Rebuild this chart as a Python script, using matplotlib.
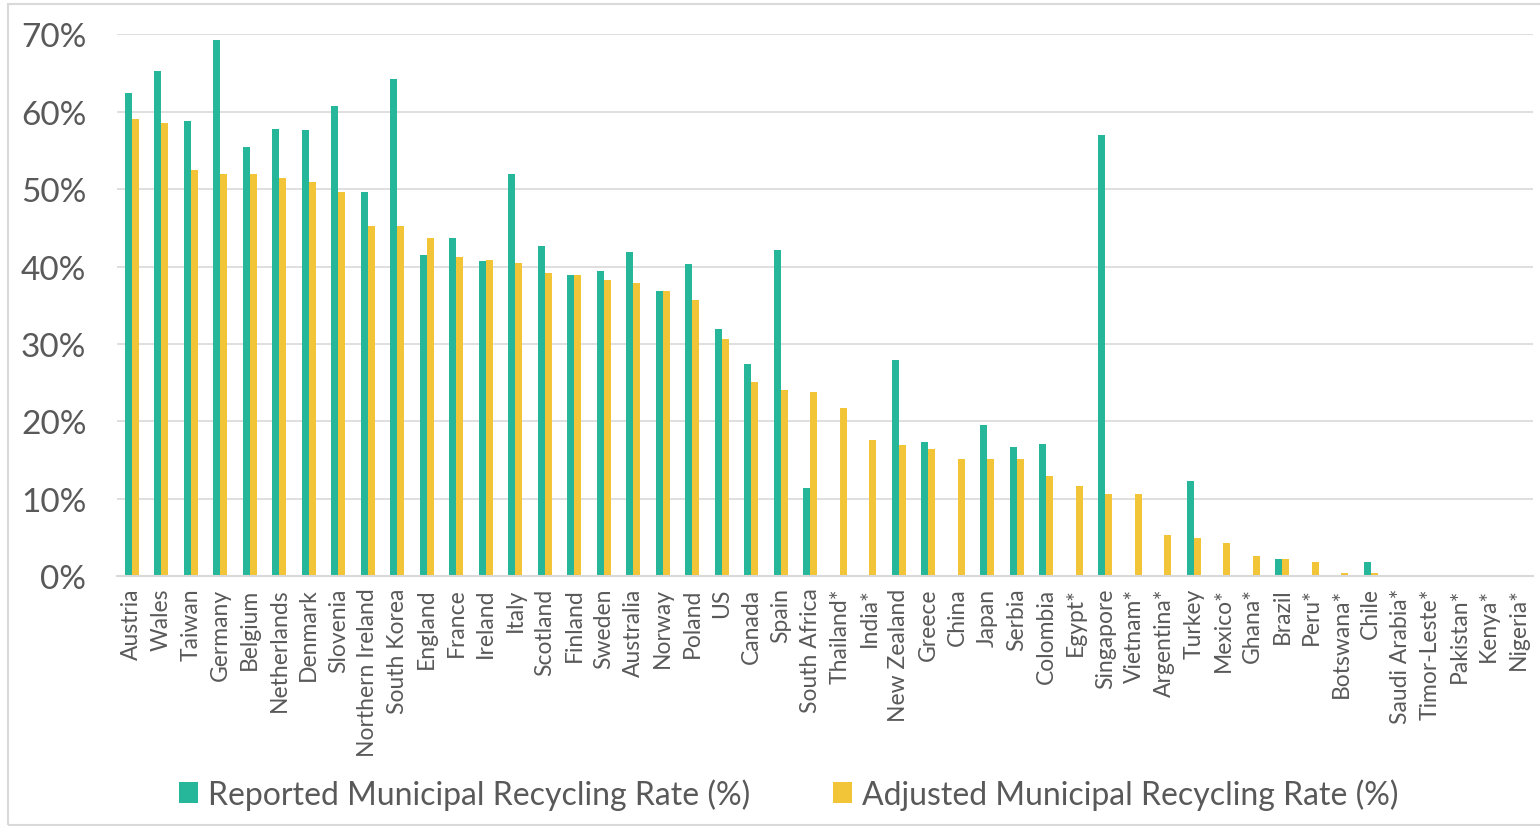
import numpy as np
import matplotlib
matplotlib.use('Agg')
import matplotlib.pyplot as plt
from matplotlib.patches import Rectangle

countries = ["Austria", "Wales", "Taiwan", "Germany", "Belgium", "Netherlands",
             "Denmark", "Slovenia", "Northern Ireland", "South Korea", "England",
             "France", "Ireland", "Italy", "Scotland", "Finland", "Sweden",
             "Australia", "Norway", "Poland", "US", "Canada", "Spain",
             "South Africa", "Thailand*", "India*", "New Zealand", "Greece",
             "China", "Japan", "Serbia", "Colombia", "Egypt*", "Singapore",
             "Vietnam*", "Argentina*", "Turkey", "Mexico*", "Ghana*", "Brazil",
             "Peru*", "Botswana*", "Chile", "Saudi Arabia*", "Timor-Leste*",
             "Pakistan*", "Kenya*", "Nigeria*"]

nan = np.nan
# reported rate, % (nan = not reported)
reported = [62.4, 65.2, 58.8, 69.3, 55.5, 57.8,
            57.6, 60.8, 49.6, 64.2, 41.5,
            43.7, 40.7, 51.9, 42.6, 38.9, 39.4,
            41.9, 36.9, 40.3, 32.0, 27.4, 42.2,
            11.4, nan, nan, 27.9, 17.4,
            nan, 19.5, 16.7, 17.1, nan, 57.0,
            nan, nan, 12.3, nan, nan, 2.2,
            nan, nan, 1.9, nan, nan,
            nan, nan, nan]
# adjusted rate, %
adjusted = [59.0, 58.6, 52.5, 52.0, 52.0, 51.5,
            50.9, 49.6, 45.3, 45.3, 43.7,
            41.2, 40.8, 40.5, 39.2, 38.9, 38.3,
            37.9, 36.9, 35.7, 30.7, 25.1, 24.0,
            23.8, 21.7, 17.6, 17.0, 16.4,
            15.2, 15.2, 15.2, 13.0, 11.7, 10.6,
            10.6, 5.3, 4.9, 4.3, 2.6, 2.2,
            1.8, 0.4, 0.4, 0.15, 0.0,
            0.0, 0.0, 0.0]

green = "#26B79A"
yellow = "#F2C437"
text_col = "#595959"
grid_col = "#D9D9D9"

plt.rcParams['font.family'] = ['Lato', 'DejaVu Sans']

fig = plt.figure(figsize=(15.4, 8.28), dpi=100)
# light frame around the whole chart
fig.patches.append(Rectangle((8 / 1540, 2 / 828), 1.0, 821 / 828, transform=fig.transFigure,
                             fill=False, edgecolor=grid_col, linewidth=1.5))

ax = fig.add_axes([117 / 1540, 250.7 / 828, 1416 / 1540, 542 / 828])

x = np.arange(len(countries))
w = 0.237
ax.bar(x - w / 2, reported, w, color=green, label="Reported Municipal Recycling Rate (%)")
ax.bar(x + w / 2, adjusted, w, color=yellow, label="Adjusted Municipal Recycling Rate (%)")

ax.set_xlim(-0.5, len(countries) - 0.5)
ax.set_ylim(0, 70)
ax.set_yticks(range(0, 71, 10))
ax.set_yticklabels([f"{v}%" for v in range(0, 71, 10)], fontsize=24, color=text_col)
ax.set_xticks(x)
ax.set_xticklabels(countries, rotation=90, fontsize=16.5, color=text_col)
ax.tick_params(axis='y', length=0, pad=22)
ax.tick_params(axis='x', length=0, pad=8)

ax.grid(axis='y', color=grid_col, linewidth=1.2)
ax.set_axisbelow(True)
for s in ['top', 'right', 'left']:
    ax.spines[s].set_visible(False)
ax.spines['bottom'].set_color(grid_col)
ax.spines['bottom'].set_linewidth(1.5)

fig.legend(loc='center', bbox_to_anchor=(0.512, 0.04), ncol=2, frameon=False,
           fontsize=23, labelcolor=text_col, handlelength=0.6, handleheight=0.6,
           handletextpad=0.3, columnspacing=2.6)

fig.savefig("out.png", dpi=100)
